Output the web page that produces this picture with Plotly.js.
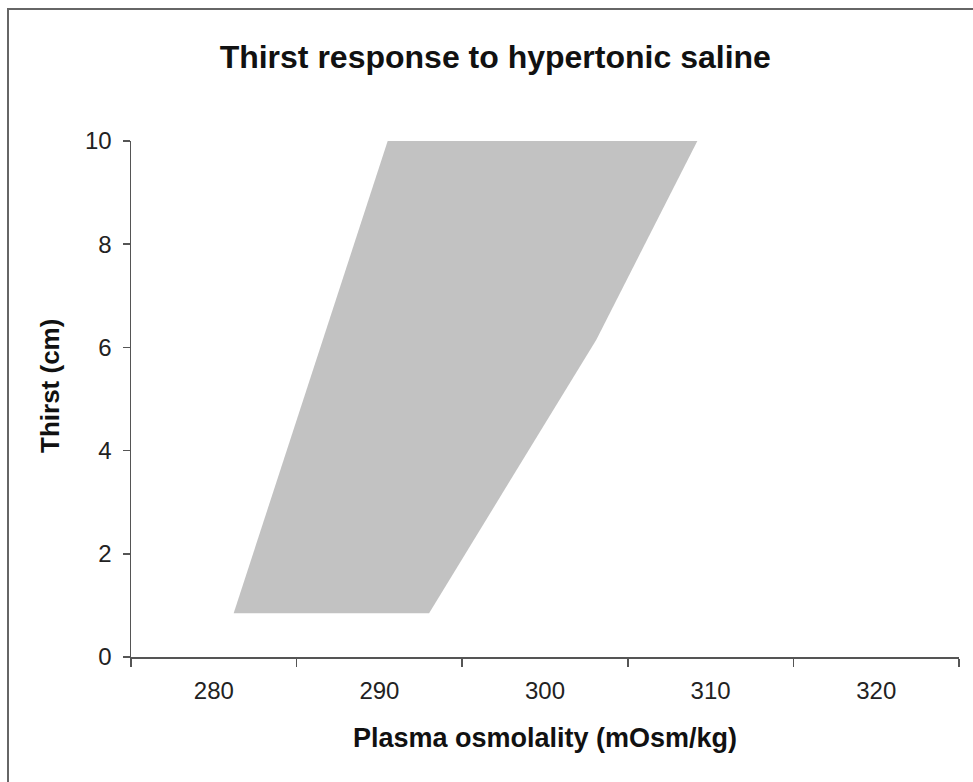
<!DOCTYPE html>
<html>
<head>
<meta charset="utf-8">
<script src="https://cdn.plot.ly/plotly-3.0.1.min.js"></script>
<style>
  html, body { margin: 0; padding: 0; background: #fff; }
  #wrap { position: relative; width: 973px; height: 782px; }
  #chart { width: 973px; height: 782px; }
  #frame { position: absolute; left: 7px; top: 8px; width: 980px; height: 790px;
           border-left: 2px solid #666; border-top: 2px solid #666; pointer-events: none; }
</style>
</head>
<body>
<div id="wrap">
  <div id="chart"></div>
  <div id="frame"></div>
</div>
<script>
// Band outline of the thirst response region (osmolality, thirst)
const bandOsmolality = [281.2, 290.5, 309.2, 303.1, 293.0, 281.2];
const bandThirst     = [0.85, 10, 10, 6.15, 0.85, 0.85];

const xTickLabels = [280, 290, 300, 310, 320];
const xTickMarks  = [275, 285, 295, 305, 315, 325];
const yTicks      = [0, 2, 4, 6, 8, 10];

const trace = {
  x: bandOsmolality,
  y: bandThirst,
  type: 'scatter',
  mode: 'lines',
  fill: 'toself',
  fillcolor: 'rgb(194,194,194)',
  line: { width: 0, color: 'rgb(194,194,194)' },
  hoverinfo: 'skip',
  showlegend: false
};

const layout = {
  width: 973,
  height: 782,
  margin: { l: 131, r: 14, t: 141, b: 125 },
  paper_bgcolor: '#fff',
  plot_bgcolor: '#fff',
  font: { family: 'Liberation Sans, Arial, sans-serif', color: '#111' },
  title: {
    text: '<b>Thirst response to hypertonic saline</b>',
    font: { size: 32, family: 'Liberation Sans, Arial, sans-serif', color: '#111' },
    x: 0.509, xanchor: 'center',
    y: 0.927, yanchor: 'middle'
  },
  xaxis: {
    range: [275, 325],
    tickvals: xTickLabels,
    ticktext: xTickLabels.map(String),
    ticks: '',
    ticklabelstandoff: 12,
    tickfont: { size: 24, color: '#222' },
    showgrid: false,
    zeroline: false,
    showline: true,
    linecolor: '#555',
    linewidth: 1.5,
    minor: { tickvals: xTickMarks, ticks: 'outside', ticklen: 8, tickcolor: '#555', tickwidth: 1.5, showgrid: false },
    title: {
      text: '<b>Plasma osmolality (mOsm/kg)</b>',
      font: { size: 27, color: '#111' },
      standoff: 25
    },
    fixedrange: true
  },
  yaxis: {
    range: [0, 10],
    tickvals: yTicks,
    ticks: 'outside',
    ticklen: 7,
    tickcolor: '#555',
    tickwidth: 1.5,
    ticklabelstandoff: 6,
    tickfont: { size: 24, color: '#222' },
    showgrid: false,
    zeroline: false,
    showline: true,
    linecolor: '#555',
    linewidth: 1.5,
    fixedrange: true
  },
  annotations: [{
    text: '<b>Thirst (cm)</b>',
    font: { size: 26, color: '#111' },
    xref: 'paper', yref: 'paper',
    x: -0.098, y: 0.525,
    xanchor: 'center', yanchor: 'middle',
    textangle: -90,
    showarrow: false
  }]
};

Plotly.newPlot('chart', [trace], layout, { displayModeBar: false, staticPlot: true });
</script>
</body>
</html>
